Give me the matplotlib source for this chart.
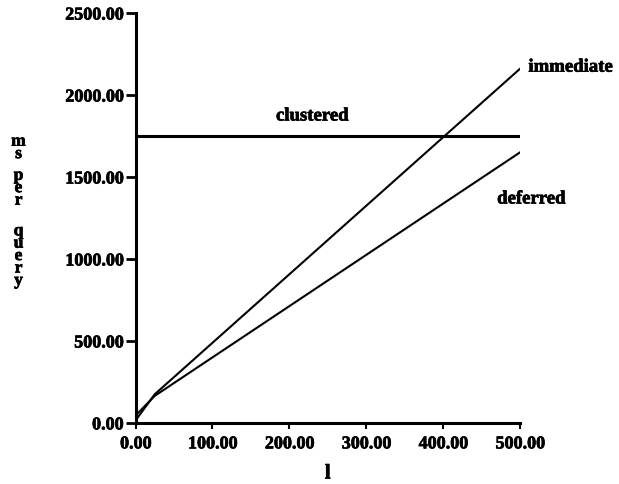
import matplotlib
matplotlib.use("Agg")
import matplotlib.pyplot as plt
import matplotlib.patheffects as pe
from matplotlib.ticker import FormatStrFormatter

# query cost (ms per query) against l
l_vals = [0, 25, 500]
immediate = [15, 175, 2160]
deferred = [45, 165, 1650]
clustered_l = [0, 500]
clustered = [1750, 1750]

x_ticks = [0, 100, 200, 300, 400, 500]
y_ticks = [0, 500, 1000, 1500, 2000, 2500]

plt.rcParams['font.family'] = ['Liberation Serif', 'DejaVu Serif']
plt.rcParams['font.weight'] = 'bold'

# slightly heavier strokes on all text
heavy = [pe.withStroke(linewidth=0.5, foreground='black')]

fig = plt.figure(figsize=(6.19, 4.85), dpi=100)
ax = fig.add_axes([0.219, 0.126, 0.621, 0.845])

ax.plot(l_vals, immediate, color='black', lw=1.5)
ax.plot(l_vals, deferred, color='black', lw=1.5)
ax.plot(clustered_l, clustered, color='black', lw=2.2)

ax.set_xlim(0, 500)
ax.set_ylim(0, 2500)
ax.set_xticks(x_ticks)
ax.set_yticks(y_ticks)
ax.xaxis.set_major_formatter(FormatStrFormatter('%.2f'))
ax.yaxis.set_major_formatter(FormatStrFormatter('%.2f'))
ax.tick_params(axis='y', length=7, width=2, labelsize=13, pad=2)
ax.tick_params(axis='x', length=4, width=1.5, labelsize=13, pad=5)
for lab in ax.get_xticklabels() + ax.get_yticklabels():
    lab.set_fontweight('bold')
    lab.set_path_effects(heavy)

for side in ('top', 'right'):
    ax.spines[side].set_visible(False)
for side in ('left', 'bottom'):
    ax.spines[side].set_linewidth(2.2)

ax.text(511, 2170, 'immediate', fontsize=13.5, fontweight='bold',
        ha='left', va='center', clip_on=False, path_effects=heavy)
ax.text(230, 1872, 'clustered', fontsize=13.5, fontweight='bold',
        ha='center', va='center', path_effects=heavy)
ax.text(515, 1366, 'deferred', fontsize=13.5, fontweight='bold',
        ha='center', va='center', clip_on=False, path_effects=heavy)

ax.set_xlabel('l', fontsize=15, fontweight='bold', labelpad=8,
              path_effects=heavy)

# vertically stacked y-axis label, one letter per line
stack = [('ms', 0.693), ('per', 0.610), ('query', 0.470)]
for word, yc in stack:
    fig.text(0.030, yc, '\n'.join(word), fontsize=12.5, fontweight='bold',
             ha='center', va='center', linespacing=0.7, path_effects=heavy)

fig.savefig('out.png', dpi=100)
